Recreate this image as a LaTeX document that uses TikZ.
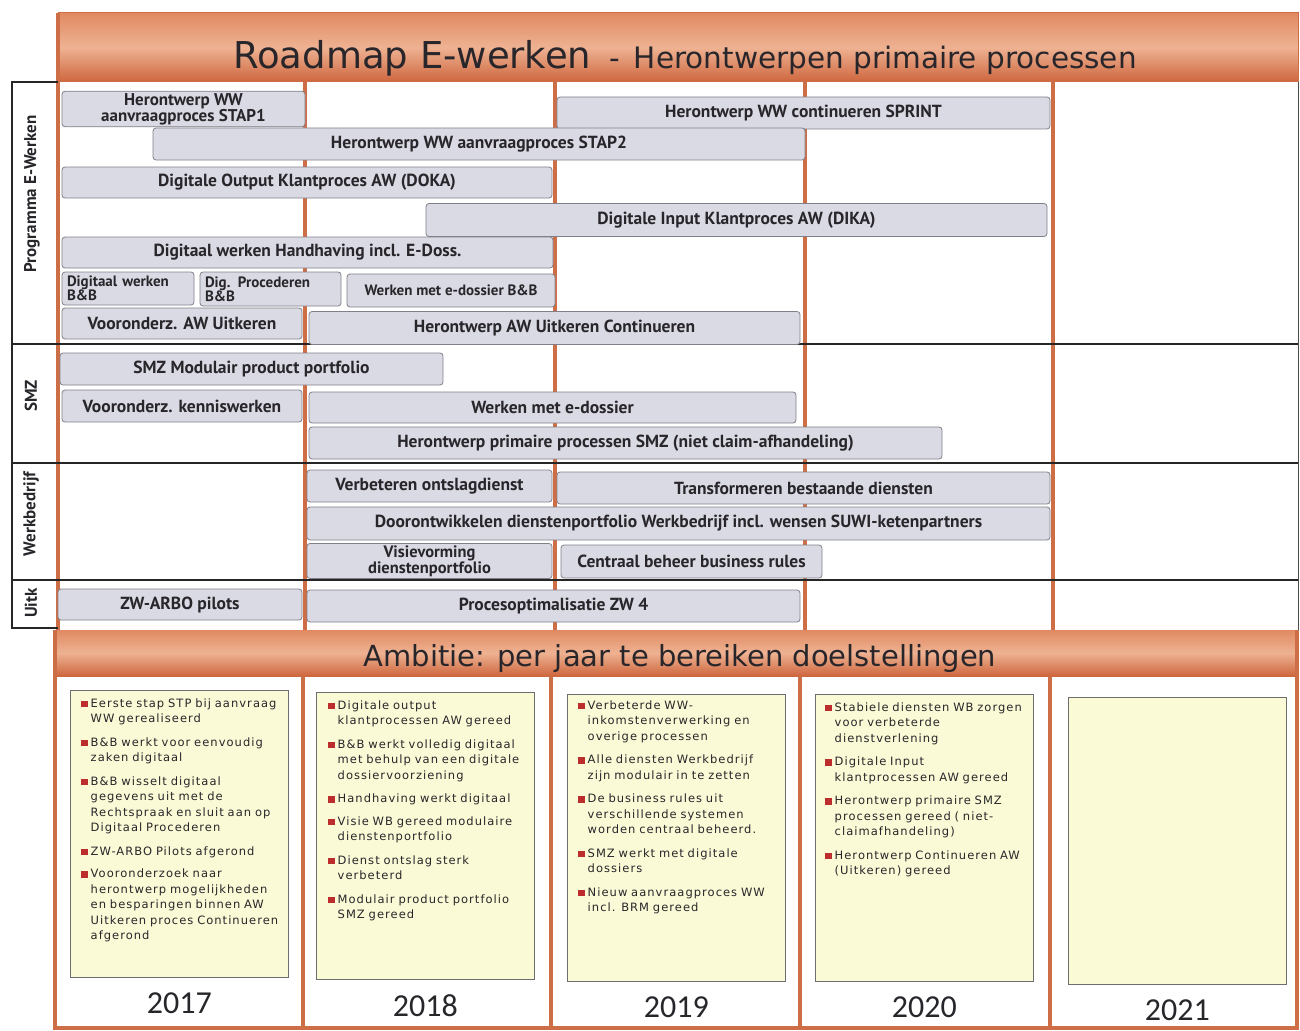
\documentclass[tikz,border=0pt]{standalone}
\usepackage{fontspec}
\setmainfont{DejaVu Sans}
\newfontfamily\balkfont{PT Sans}
\newfontfamily\doelfont{DejaVu Sans}[LetterSpace=9]
\newfontfamily\jaarfont{Carlito}
\usetikzlibrary{positioning}
\definecolor{oranje}{RGB}{206,110,70}
\definecolor{kopboven}{RGB}{224,138,98}
\definecolor{kopmidden}{RGB}{238,178,146}
\definecolor{koponder}{RGB}{206,102,62}
\definecolor{balkgrijs}{RGB}{218,218,228}
\definecolor{balkrand}{RGB}{128,128,138}
\definecolor{tekstgrijs}{RGB}{40,38,42}
\definecolor{vakgeel}{RGB}{250,250,214}
\definecolor{vakrand}{RGB}{110,110,110}
\definecolor{doelrood}{RGB}{190,45,45}

\newcommand{\doel}[1]{\textcolor{doelrood}{\rule{6.5pt}{6.5pt}}\hspace{3pt}\begin{tabular}[t]{@{}l@{}}#1\end{tabular}}

\begin{document}
\begin{tikzpicture}[x=1pt, y=-1pt,
    balk/.style={draw=balkrand, fill=balkgrijs, rounded corners=3pt, line width=0.8pt, inner sep=2pt,
        text=tekstgrijs, align=center, font=\balkfont\bfseries\fontsize{17.5}{18}\selectfont},
    balkklein/.style={balk, font=\balkfont\bfseries\fontsize{15}{14}\selectfont},
    groep/.style={rotate=90, text=tekstgrijs, font=\balkfont\bfseries\fontsize{17}{18}\selectfont},
    kop/.style={shade, top color=kopboven, bottom color=koponder, middle color=kopmidden},
    kolom/.style={oranje, line width=4pt},
    scheiding/.style={black!85, line width=1.2pt},
    vak/.style={draw=vakrand, fill=vakgeel, line width=0.8pt, minimum width=218pt, minimum height=287pt,
        anchor=north west, inner sep=0pt},
    doeltekst/.style={anchor=north west, inner sep=0pt, text width=205pt, align=left, text=tekstgrijs,
        font=\doelfont\fontsize{11.5}{15.5}\selectfont},
    jaar/.style={inner sep=0pt, text=tekstgrijs, font=\jaarfont\fontsize{32}{34}\selectfont}]

    % Achtergrond
    \useasboundingbox (0,0) rectangle (1300,1030);
    \fill[white] (0,0) rectangle (1300,1030);

    % Kop
    \path[kop] (58,13) rectangle (1298,82);
    \draw[oranje, line width=1pt] (58,13) rectangle (1298,82);
    \node[anchor=base west, inner sep=0pt, text=tekstgrijs] (titel) at (233,69)
        {\fontsize{37}{40}\selectfont Roadmap E-werken\fontsize{29.5}{31}\selectfont\hspace{18pt}-\hspace{14pt}Herontwerpen primaire processen};

    % Kolommen
    \draw[kolom] (58,13) -- (58,630);
    \foreach \x in {305,555,805,1053} {
        \draw[kolom] (\x,82) -- (\x,630);
    }
    \draw[black!70, line width=1pt] (1298,82) -- (1298,630);

    % Groepen
    \draw[scheiding] (58,82) -- (12,82) -- (12,628) -- (58,628);
    \foreach \y in {344,463,580} {
        \draw[scheiding] (12,\y) -- (1298,\y);
    }
    \node[groep] (gprog) at (32,194) {Programma E-Werken};
    \node[groep] (gsmz) at (31,396) {SMZ};
    \node[groep] (gwb) at (31,514) {Werkbedrijf};
    \node[groep] (guitk) at (31,603) {Uitk};

    % Programma E-Werken
    \node[balk, minimum width=243pt, minimum height=30pt, font=\balkfont\bfseries\fontsize{17}{16}\selectfont] (stap1) at (183.5,109) {Herontwerp WW\\aanvraagproces STAP1};
    \node[balk, minimum width=493pt, minimum height=32pt] (sprint) at (803.5,113) {Herontwerp WW continueren SPRINT};
    \node[balk, minimum width=652pt, minimum height=32pt] (stap2) at (479,144) {Herontwerp WW aanvraagproces STAP2};
    \node[balk, minimum width=490pt, minimum height=31pt] (doka) at (307,182.5) {Digitale Output Klantproces AW (DOKA)};
    \node[balk, minimum width=621pt, minimum height=33pt] (dika) at (736.5,220) {Digitale Input Klantproces AW (DIKA)};
    \node[balk, minimum width=491pt, minimum height=31pt] (handh) at (307.5,252.5) {Digitaal werken Handhaving incl. E-Doss.};
    \node[balkklein, align=left, text width=122pt, inner xsep=5pt, minimum height=33pt] (dwbb) at (128,288.5) {Digitaal werken\\B\&B};
    \node[balkklein, align=left, text width=131pt, inner xsep=5pt, minimum height=34pt] (dpbb) at (270.5,289) {Dig. Procederen\\B\&B};
    \node[balkklein, minimum width=208pt, minimum height=33pt] (edbb) at (451,290.5) {Werken met e-dossier B\&B};
    \node[balk, minimum width=240pt, minimum height=31pt] (vawu) at (182,323.5) {Vooronderz. AW Uitkeren};
    \node[balk, minimum width=491pt, minimum height=33pt] (hawu) at (554.5,328) {Herontwerp AW Uitkeren Continueren};

    % SMZ
    \node[balk, minimum width=383pt, minimum height=32pt] (smzmpp) at (251.5,369) {SMZ Modulair product portfolio};
    \node[balk, minimum width=240pt, minimum height=32pt] (vkw) at (182,406) {Vooronderz. kenniswerken};
    \node[balk, minimum width=487pt, minimum height=31pt] (wed) at (552.5,407.5) {Werken met e-dossier};
    \node[balk, minimum width=633pt, minimum height=32pt] (hpps) at (625.5,443) {Herontwerp primaire processen SMZ (niet claim-afhandeling)};

    % Werkbedrijf
    \node[balk, minimum width=245pt, minimum height=32pt] (vod) at (429.5,486) {Verbeteren ontslagdienst};
    \node[balk, minimum width=493pt, minimum height=32pt] (tbd) at (803.5,488) {Transformeren bestaande diensten};
    \node[balk, minimum width=743pt, minimum height=33pt] (dopw) at (678.5,523.5) {Doorontwikkelen dienstenportfolio Werkbedrijf incl. wensen SUWI-ketenpartners};
    \node[balk, minimum width=245pt, minimum height=33pt, font=\balkfont\bfseries\fontsize{16.5}{16}\selectfont] (visie) at (429.5,561) {Visievorming\\dienstenportfolio};
    \node[balk, minimum width=261pt, minimum height=33pt] (cbbr) at (691.5,561.5) {Centraal beheer business rules};

    % Uitk
    \node[balk, minimum width=244pt, minimum height=31pt] (zwarbo) at (180,604.5) {ZW-ARBO pilots};
    \node[balk, minimum width=493pt, minimum height=32pt] (pzw4) at (553.5,606) {Procesoptimalisatie ZW 4};

    % Ambitie
    \path[kop] (55,630) rectangle (1298,676);
    \node[anchor=base, inner sep=0pt, text=tekstgrijs, font=\fontsize{29}{31}\selectfont] (ambitie) at (680,666) {Ambitie: per jaar te bereiken doelstellingen};
    \draw[kolom] (55,630) -- (55,1028) -- (1297,1028) -- (1297,630);
    \foreach \x in {303,551,800,1050} {
        \draw[kolom] (\x,676) -- (\x,1028);
    }

    % Doelen per jaar
    \foreach \j/\x/\y in {2017/70/690, 2018/316/692, 2019/567/694, 2020/815/694, 2021/1068/697} {
        \node[vak] (vak\j) at (\x,\y) {};
        \node[jaar, below=15pt of vak\j] (jaar\j) {\j};
    }

    \node[doeltekst] (doel2017) at ([xshift=11pt, yshift=-6pt]vak2017.north west) {%
        \doel{Eerste stap STP bij aanvraag\\WW gerealiseerd}\\[7pt]
        \doel{B\&B werkt voor eenvoudig\\zaken digitaal}\\[7pt]
        \doel{B\&B wisselt digitaal\\gegevens uit met de\\Rechtspraak en sluit aan op\\Digitaal Procederen}\\[7pt]
        \doel{ZW-ARBO Pilots afgerond}\\[7pt]
        \doel{Vooronderzoek naar\\herontwerp mogelijkheden\\en besparingen binnen AW\\Uitkeren proces Continueren\\afgerond}};
    \node[doeltekst] (doel2018) at ([xshift=12pt, yshift=-6pt]vak2018.north west) {%
        \doel{Digitale output\\klantprocessen AW gereed}\\[7pt]
        \doel{B\&B werkt volledig digitaal\\met behulp van een digitale\\dossiervoorziening}\\[7pt]
        \doel{Handhaving werkt digitaal}\\[7pt]
        \doel{Visie WB gereed modulaire\\dienstenportfolio}\\[7pt]
        \doel{Dienst ontslag sterk\\verbeterd}\\[7pt]
        \doel{Modulair product portfolio\\SMZ gereed}};
    \node[doeltekst] (doel2019) at ([xshift=11pt, yshift=-4pt]vak2019.north west) {%
        \doel{Verbeterde WW-\\inkomstenverwerking en\\overige processen}\\[7pt]
        \doel{Alle diensten Werkbedrijf\\zijn modulair in te zetten}\\[7pt]
        \doel{De business rules uit\\verschillende systemen\\worden centraal beheerd.}\\[7pt]
        \doel{SMZ werkt met digitale\\dossiers}\\[7pt]
        \doel{Nieuw aanvraagproces WW\\incl. BRM gereed}};
    \node[doeltekst] (doel2020) at ([xshift=10pt, yshift=-6pt]vak2020.north west) {%
        \doel{Stabiele diensten WB zorgen\\voor verbeterde\\dienstverlening}\\[7pt]
        \doel{Digitale Input\\klantprocessen AW gereed}\\[7pt]
        \doel{Herontwerp primaire SMZ\\processen gereed ( niet-\\claimafhandeling)}\\[7pt]
        \doel{Herontwerp Continueren AW\\(Uitkeren) gereed}};
\end{tikzpicture}
\end{document}
